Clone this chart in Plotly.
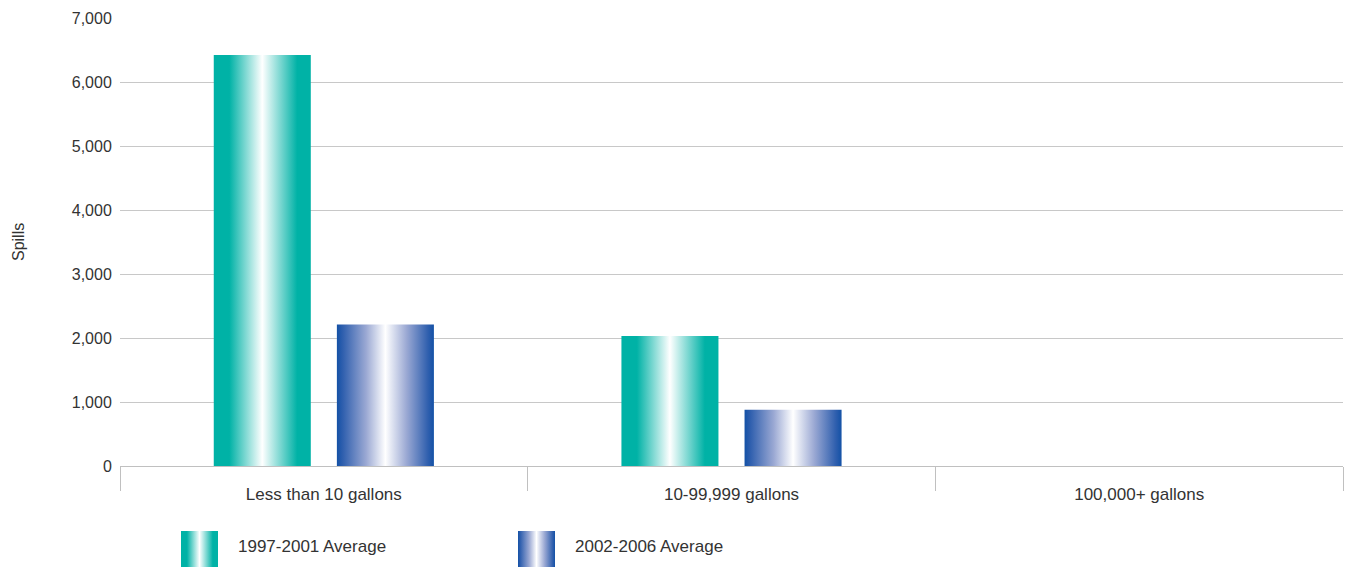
import plotly.graph_objects as go

categories = ["Less than 10 gallons", "10-99,999 gallons", "100,000+ gallons"]
series_names = ["1997-2001 Average", "2002-2006 Average"]
avg_1997_2001 = [6420, 2030, 5]
avg_2002_2006 = [2210, 880, 2]
y_ticks = [0, 1000, 2000, 3000, 4000, 5000, 6000, 7000]

TEAL = "#00b2a6"
BLUE = "#1351a6"
teal_scale = [[0, TEAL], [0.16, TEAL], [0.5, "#ffffff"], [0.86, TEAL], [1, TEAL]]
blue_scale = [[0, BLUE], [0.06, "#2f5fae"], [0.3, "#9aa8d3"], [0.5, "#ffffff"],
              [0.72, "#9aa8d3"], [0.94, "#2f5fae"], [1, BLUE]]

W, H = 1353, 567
ML, MR, MT = 120, 10, 18
PLOT_W = W - ML - MR
PLOT_H = H - MT
Y0_PX = 466  # pixel of the value axis baseline

BAR_W = 0.238
GAP = 0.064
FONT = "Liberation Sans, Arial, sans-serif"
TXT = "#333333"

fig = go.Figure()

series = [(avg_1997_2001, teal_scale, series_names[0]),
          (avg_2002_2006, blue_scale, series_names[1])]
offsets = [-(BAR_W + GAP) / 2, (BAR_W + GAP) / 2]

for (vals, scale, name), off in zip(series, offsets):
    for i, v in enumerate(vals):
        xc = i + off
        x0, x1 = xc - BAR_W / 2, xc + BAR_W / 2
        fig.add_trace(go.Scatter(
            x=[x0, x1, x1, x0, x0], y=[0, 0, v, v, 0],
            mode="lines", line=dict(width=0), fill="toself",
            fillgradient=dict(type="horizontal", colorscale=scale),
            name=name, showlegend=False, hoverinfo="skip",
        ))

# legend drawn on a small auxiliary axis at the bottom
leg_x = [61, 398]          # swatch left positions (px from plot left)
SW_W = 37
for (vals, scale, name), lx in zip(series, leg_x):
    fig.add_trace(go.Scatter(
        x=[lx, lx + SW_W, lx + SW_W, lx, lx], y=[0, 0, 1, 1, 0],
        xaxis="x2", yaxis="y2",
        mode="lines", line=dict(width=0), fill="toself",
        fillgradient=dict(type="horizontal", colorscale=scale),
        showlegend=False, hoverinfo="skip",
    ))
    fig.add_annotation(
        x=(lx + SW_W + 18) / PLOT_W, y=(H - 546) / PLOT_H, xref="paper", yref="paper",
        text=name, showarrow=False, xanchor="left", yanchor="middle",
        font=dict(family=FONT, size=17, color=TXT),
    )

fig.add_annotation(
    x=(19 - ML) / PLOT_W, y=(H - 242) / PLOT_H, xref="paper", yref="paper",
    text="Spills", textangle=-90, showarrow=False, xanchor="center", yanchor="middle",
    font=dict(family=FONT, size=16, color=TXT),
)

y_bottom = (H - Y0_PX) / PLOT_H

fig.update_layout(
    template="none",
    width=W, height=H,
    margin=dict(l=ML, r=MR, t=MT, b=0, autoexpand=False),
    plot_bgcolor="white", paper_bgcolor="white",
    font=dict(family=FONT, color=TXT),
    showlegend=False,
    xaxis=dict(
        range=[-0.5, 2.5], tickmode="array", tickvals=[0, 1, 2], ticktext=categories,
        showgrid=False, zeroline=False, showline=True, linecolor="#c0c0c0", linewidth=1,
        ticks="outside", ticklen=13, tickcolor="rgba(0,0,0,0)",
        tickfont=dict(family=FONT, size=17, color=TXT),
        minor=dict(tickmode="linear", tick0=-0.5, dtick=1, ticks="outside",
                   ticklen=24, tickcolor="#c0c0c0", tickwidth=1, showgrid=False),
        anchor="y", fixedrange=True, automargin=False,
    ),
    yaxis=dict(
        domain=[y_bottom, 1], range=[0, 7000], tickvals=y_ticks, tickformat=",d",
        showgrid=True, gridcolor="#c8c8c8", gridwidth=1, zeroline=False, showline=False,
        ticks="outside", ticklen=4, tickcolor="rgba(0,0,0,0)",
        tickfont=dict(family=FONT, size=16, color=TXT), fixedrange=True, automargin=False,
    ),
    xaxis2=dict(domain=[0, 1], range=[0, PLOT_W], visible=False, anchor="y2",
                fixedrange=True, automargin=False),
    yaxis2=dict(domain=[0, (H - 531) / PLOT_H], range=[0, 1], visible=False, anchor="x2",
                fixedrange=True, automargin=False),
)

fig.write_html("out.html")
